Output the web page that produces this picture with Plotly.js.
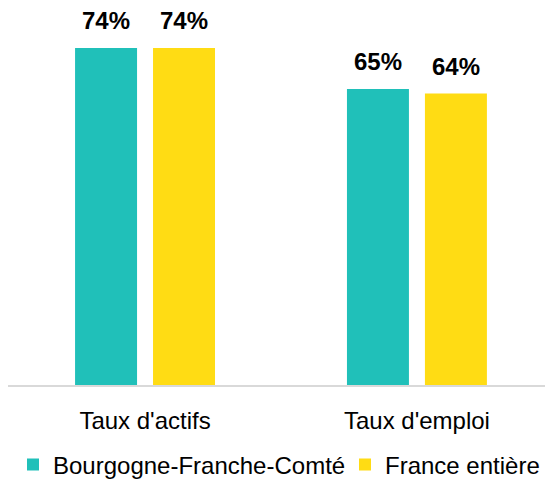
<!DOCTYPE html>
<html>
<head>
<meta charset="utf-8">
<script src="https://cdn.plot.ly/plotly-3.0.1.min.js"></script>
<style>html,body{margin:0;padding:0;background:#fff;}#chart{width:547px;height:479px;}</style>
</head>
<body>
<div id="chart"></div>
<script>
const categories = ["Taux d'actifs", "Taux d'emploi"];
const seriesNames = ["Bourgogne-Franche-Comté", "France entière"];
const bfcValues = [74, 65];
const franceValues = [74, 64];
const colors = ["#20C0B9", "#FFDC14"];

const FONT = "Arial, 'Liberation Sans', sans-serif";
const allSeries = [bfcValues, franceValues];
const legendIds = ["legend", "legend2"];

const traces = allSeries.map((vals, i) => ({
  type: "bar",
  name: seriesNames[i],
  x: categories,
  y: vals,
  marker: {color: colors[i]},
  legend: legendIds[i],
  hoverinfo: "skip"
}));

const annotations = [];
allSeries.forEach((vals, i) => {
  vals.forEach((v, j) => {
    annotations.push({
      x: categories[j], y: v, xref: "x", yref: "y",
      text: "<b>" + v + "%</b>",
      showarrow: false,
      xshift: i === 0 ? -39 : 39,
      yanchor: "bottom", yshift: 12,
      font: {family: FONT, size: 24, color: "#000"}
    });
  });
});

function legendAt(px) {
  return {
    orientation: "h", xref: "container", yref: "container",
    x: px / 547, xanchor: "left", y: 14 / 479, yanchor: "middle",
    font: {family: FONT, size: 24, color: "#000"},
    itemwidth: 30, tracegroupgap: 0, bgcolor: "rgba(0,0,0,0)"
  };
}

const layout = {
  width: 547, height: 479,
  margin: {l: 8, r: 2, t: 10, b: 94},
  paper_bgcolor: "#fff", plot_bgcolor: "#fff",
  barmode: "group",
  bargap: 0.4265,
  bargroupgap: 0.205,
  font: {family: FONT, size: 24, color: "#000"},
  xaxis: {
    type: "category",
    range: [-0.504, 1.471],
    showline: true, linecolor: "#d9d9d9", linewidth: 2,
    ticks: "", showgrid: false, zeroline: false,
    tickfont: {family: FONT, size: 24, color: "#000"},
    ticklabelstandoff: 13
  },
  yaxis: {
    range: [0, 82.35], visible: false, showgrid: false, zeroline: false
  },
  showlegend: true,
  legend: legendAt(13),
  legend2: legendAt(345),
  annotations: annotations
};

Plotly.newPlot("chart", traces, layout, {displayModeBar: false, staticPlot: true});
</script>
</body>
</html>
